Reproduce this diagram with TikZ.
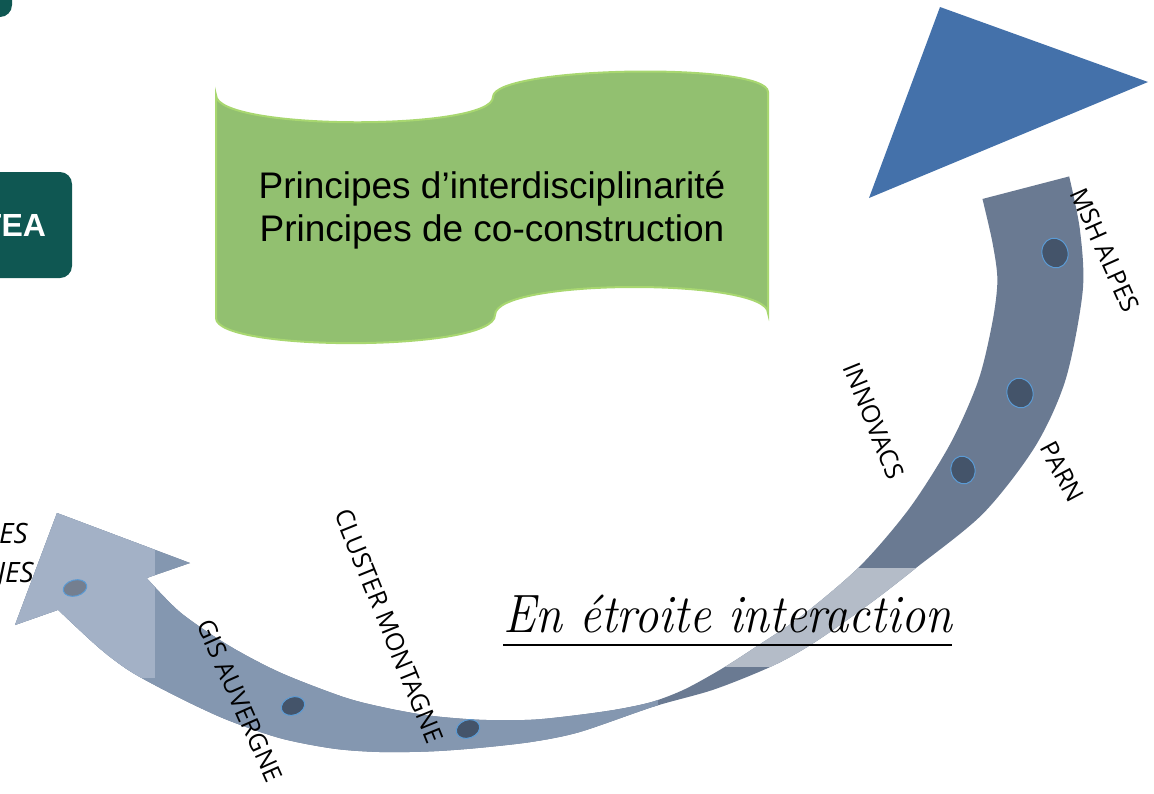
\documentclass[tikz,border=0pt]{standalone}
\usepackage{fontspec}
\newfontfamily\labelfont{Open Sans}
\newfontfamily\bannerfont{Liberation Sans}
\usetikzlibrary{positioning}

\definecolor{tea_green}{RGB}{15,87,82}
\definecolor{banner_fill}{RGB}{146,192,112}
\definecolor{banner_ring}{RGB}{168,215,112}
\definecolor{arrow_blue}{RGB}{68,113,170}
\definecolor{band_dark}{RGB}{106,122,146}
\definecolor{band_mid}{RGB}{132,151,176}
\definecolor{band_pale}{RGB}{180,188,200}
\definecolor{tip_pale}{RGB}{163,177,198}
\definecolor{dot_fill}{RGB}{68,84,106}
\definecolor{dot_faded}{RGB}{116,127,144}
\definecolor{dot_ring}{RGB}{91,155,213}

\tikzstyle{tea_fill} = [
    fill=tea_green,
    rounded corners=12pt
]
\tikzstyle{tea_box} = [
    tea_fill,
    text=white,
    font=\bannerfont\bfseries\fontsize{32}{36}\selectfont,
    minimum width=116pt,
    minimum height=106pt,
    inner sep=0pt
]
\tikzstyle{banner} = [
    fill=banner_fill,
    draw=banner_ring,
    line width=2pt
]
\tikzstyle{banner_text} = [
    font=\bannerfont\fontsize{37}{43}\selectfont,
    inner sep=0pt
]
\tikzstyle{band_label} = [
    font=\labelfont\fontsize{25}{29}\selectfont,
    inner sep=0pt
]
\tikzstyle{edge_label} = [
    font=\labelfont\itshape\fontsize{28}{32}\selectfont,
    inner sep=0pt
]
\tikzstyle{band_dot} = [
    fill=dot_fill,
    draw=dot_ring,
    line width=1pt
]
\tikzstyle{title_text} = [
    font=\itshape\fontsize{54}{60}\selectfont,
    inner sep=0pt,
    xscale=0.9,
    transform shape
]

% outline of the curved band (polar points round the hub), arrow head on the left
\def\bandpath{(57,513) -- (190,563)
    -- plot[smooth, tension=0.5] coordinates {([shift={(hub)}]135.9:513)
        ([shift={(hub)}]130.5:515) ([shift={(hub)}]124:512)
        ([shift={(hub)}]117.5:509) ([shift={(hub)}]110:506)
        ([shift={(hub)}]105.5:504) ([shift={(hub)}]100:502)
        ([shift={(hub)}]94:500) ([shift={(hub)}]88:499)
        ([shift={(hub)}]82.5:498) ([shift={(hub)}]78:499)
        ([shift={(hub)}]74:500) ([shift={(hub)}]70:498)
        ([shift={(hub)}]65:493) ([shift={(hub)}]60:489)
        ([shift={(hub)}]54:488) ([shift={(hub)}]45:488)
        ([shift={(hub)}]36:488) ([shift={(hub)}]27:489)
        ([shift={(hub)}]19:490) ([shift={(hub)}]12:488)
        ([shift={(hub)}]7:486) ([shift={(hub)}]2.6:478)
        ([shift={(hub)}]-2.7:468)}
    -- plot[smooth, tension=0.5] coordinates {([shift={(hub)}]-4.6:556)
        ([shift={(hub)}]0.9:565) ([shift={(hub)}]7:572)
        ([shift={(hub)}]16:573) ([shift={(hub)}]23.4:567)
        ([shift={(hub)}]32:552) ([shift={(hub)}]41:530)
        ([shift={(hub)}]47:522) ([shift={(hub)}]54.7:517)
        ([shift={(hub)}]60:514) ([shift={(hub)}]67:509)
        ([shift={(hub)}]74:505) ([shift={(hub)}]82.7:515)
        ([shift={(hub)}]88:521) ([shift={(hub)}]93.8:528)
        ([shift={(hub)}]99:537) ([shift={(hub)}]104.3:548)
        ([shift={(hub)}]109:558) ([shift={(hub)}]114.4:568)
        ([shift={(hub)}]120:576) ([shift={(hub)}]125.1:583)
        ([shift={(hub)}]130.3:592) ([shift={(hub)}]134.2:596)
        ([shift={(hub)}]139.6:600)}
    -- (15,625) -- cycle}

\begin{document}
\begin{tikzpicture}[x=1pt, y=-1pt]
\useasboundingbox (0,0) rectangle (1154,793);
\coordinate (hub) at (515,221);

% boxes cut by the left edge
\fill[tea_fill] (-40,-40) rectangle (12,17);
\node[tea_box] (tea) at (14,225) {TEA};

% green banner
\filldraw[banner] (216,95) .. controls (216,131) and (493,131) .. (493,97)
    .. controls (493,66) and (768,62) .. (768,92) -- (768,313)
    .. controls (768,278) and (495,278) .. (495,315)
    .. controls (495,352) and (216,352) .. (216,318) -- cycle;
\node[banner_text, anchor=base] (interdisc) at (492,198) {Principes d’interdisciplinarité};
\node[banner_text, anchor=base] (coconstr) at (492,241) {Principes de co-construction};

% curved band
\begin{scope}
    \clip \bandpath;
    \fill[band_dark] (0,150) rectangle (1154,793);
    \fill[band_mid] (-10,450) rectangle (658,793);
    \fill[band_pale] (658,568) rectangle (1000,667);
    \fill[tip_pale] (-10,450) rectangle (155,678);
\end{scope}
\fill[arrow_blue] (940,7) -- (1148,82) -- (869,198) -- cycle;

% dots on the band
\filldraw[band_dot, rotate around={15:(1055,253)}] (1055,253) ellipse [x radius=13, y radius=15];
\filldraw[band_dot, rotate around={15:(1020,393)}] (1020,393) ellipse [x radius=13, y radius=15];
\filldraw[band_dot, rotate around={15:(963,470)}] (963,470) ellipse [x radius=12, y radius=14];
\filldraw[band_dot, rotate around={20:(468,729)}] (468,729) ellipse [x radius=12, y radius=9];
\filldraw[band_dot, rotate around={20:(293,706)}] (293,706) ellipse [x radius=12, y radius=9];
\filldraw[band_dot, fill=dot_faded, rotate around={15:(75,588)}] (75,588) ellipse [x radius=12, y radius=8];

% labels along the band
\node[band_label, rotate=-66] (msh) at (1105,250) {MSH ALPES};
\node[band_label, rotate=-62] (parn) at (1062,472) {PARN};
\node[band_label, rotate=-68] (innovacs) at (874,421) {INNOVACS};
\node[band_label, rotate=-68] (cluster) at (389,626) {CLUSTER MONTAGNE};
\node[band_label, rotate=-66] (gis) at (240,701) {GIS AUVERGNE};
\node[edge_label, anchor=base east] (es) at (28,543) {ES};
\node[edge_label, anchor=base east] (jes) at (34,582) {JES};

% title
\node[title_text, anchor=base west] (interaction) at (503,632) {En étroite interaction};
\draw[line width=2.5pt] ([yshift=-13pt]interaction.base west) -- ([yshift=-13pt]interaction.base east);
\end{tikzpicture}
\end{document}
